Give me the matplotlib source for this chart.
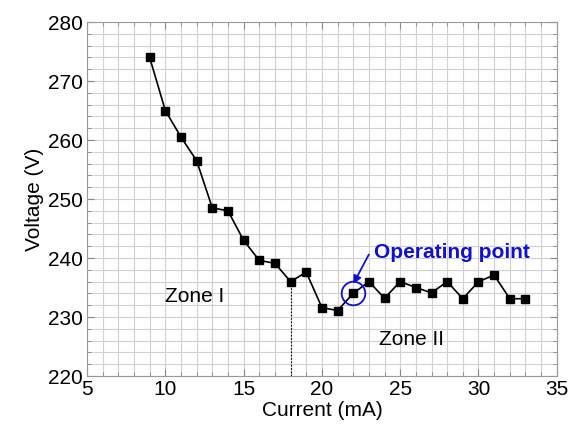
import matplotlib
matplotlib.use('Agg')
import matplotlib.pyplot as plt
from matplotlib.ticker import MultipleLocator

plt.rcParams['font.family'] = ['Liberation Sans', 'DejaVu Sans']

# current (mA) and voltage (V)
current = [9, 10, 11, 12, 13, 14, 15, 16, 17, 18, 19, 20, 21,
           22, 23, 24, 25, 26, 27, 28, 29, 30, 31, 32, 33]
voltage = [274, 265, 260.5, 256.5, 248.5, 248, 243, 239.6, 239.1, 236, 237.6, 231.6, 231.1,
           234, 236, 233.2, 236, 235, 234.1, 236, 233.1, 236, 237.1, 233.1, 233.1]

op_current = 22
op_voltage = 234
zone_boundary = 18
zone_boundary_v = 236

fig = plt.figure(figsize=(5.74, 4.29), dpi=100)
ax = fig.add_axes([0.1516, 0.1235, 0.8184, 0.8252])

ax.plot(current, voltage, color='black', lw=1.2, marker='s', ms=6, zorder=3)

# dotted line marking the zone boundary
ax.plot([zone_boundary, zone_boundary], [220, zone_boundary_v], color='black',
        ls=(0, (1.5, 1.5)), lw=0.8, zorder=2)

# circle around operating point + label with arrow
blue = '#1010d0'
ax.plot([op_current], [op_voltage], marker='o', ms=17, mfc='none', mec=blue,
        mew=1.3, zorder=4)
ax.text(23.3, 240, 'Operating point', color=blue, fontsize=15, fontweight='bold',
        ha='left', va='baseline')
ax.annotate('', xy=(op_current, op_voltage + 1.6), xytext=(23.0, 240.6),
            arrowprops=dict(arrowstyle='-|>', color=blue, lw=1.3,
                            mutation_scale=12, shrinkA=0, shrinkB=0))

ax.text(11.9, 233.4, 'Zone I', fontsize=15, ha='center', va='center')
ax.text(25.7, 226.2, 'Zone II', fontsize=15, ha='center', va='center')

ax.set_xlim(5, 35)
ax.set_ylim(220, 280)
ax.xaxis.set_major_locator(MultipleLocator(5))
ax.xaxis.set_minor_locator(MultipleLocator(1))
ax.yaxis.set_major_locator(MultipleLocator(10))
ax.yaxis.set_minor_locator(MultipleLocator(2))
ax.grid(which='both', color='#d0d0d0', lw=0.8, zorder=0)
ax.set_axisbelow(True)

ax.tick_params(which='both', direction='in', top=True, right=True, colors='#888888',
               labelcolor='black', labelsize=15, pad=3)
ax.tick_params(which='major', length=5)
ax.tick_params(which='minor', length=3)
for s in ax.spines.values():
    s.set_color('#999999')

ax.set_xlabel('Current (mA)', fontsize=15, labelpad=1)
ax.set_ylabel('Voltage (V)', fontsize=15, labelpad=3)

fig.savefig('out.png', dpi=100)
